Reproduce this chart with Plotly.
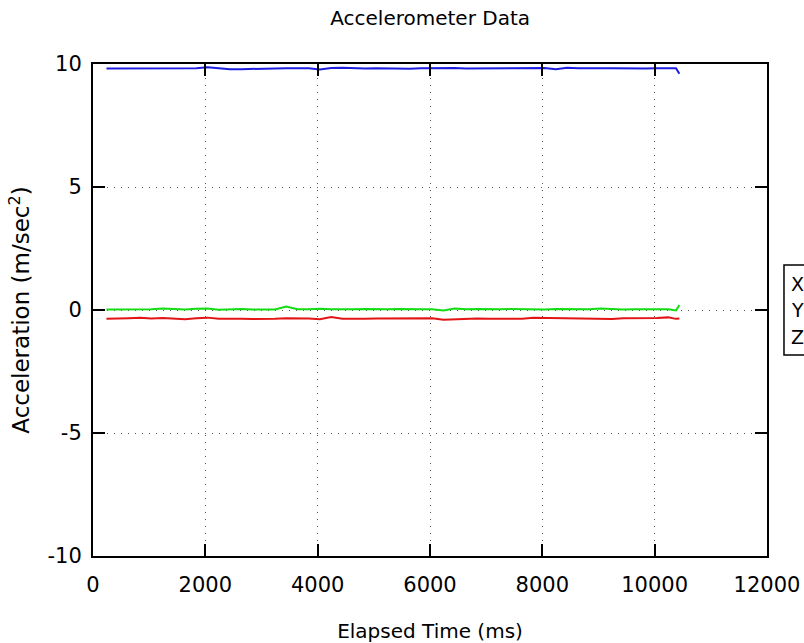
import plotly.graph_objects as go

# Sample times (ms) and acceleration readings (m/sec^2) for each axis
time_ms = [240 + 200 * i for i in range(51)] + [10380, 10440]

accel_x = [-0.36, -0.36, -0.34, -0.32, -0.35, -0.33, -0.37, -0.38, -0.34, -0.31,
           -0.36, -0.35, -0.36, -0.37, -0.38, -0.36, -0.34, -0.33, -0.35, -0.38,
           -0.29, -0.36, -0.37, -0.36, -0.35, -0.35, -0.34, -0.33, -0.34, -0.34,
           -0.40, -0.38, -0.36, -0.35, -0.36, -0.37, -0.38, -0.36, -0.32, -0.33,
           -0.34, -0.34, -0.35, -0.36, -0.39, -0.37, -0.34, -0.34, -0.33, -0.33,
           -0.30, -0.36, -0.35]

accel_y = [0.02, 0.02, 0.03, 0.02, 0.03, 0.06, 0.03, 0.02, 0.05, 0.06,
           0.01, 0.03, 0.04, 0.02, 0.03, 0.02, 0.14, 0.03, 0.03, 0.05,
           0.03, 0.02, 0.03, 0.04, 0.02, 0.03, 0.04, 0.02, 0.03, 0.03,
           -0.02, 0.06, 0.03, 0.04, 0.02, 0.03, 0.04, 0.03, 0.05, 0.02,
           0.04, 0.03, 0.02, 0.03, 0.06, 0.03, 0.02, 0.03, 0.04, 0.02,
           0.03, -0.02, 0.20]

accel_z = [9.82, 9.82, 9.83, 9.85, 9.84, 9.82, 9.82, 9.82, 9.83, 9.87,
           9.83, 9.79, 9.79, 9.79, 9.80, 9.82, 9.83, 9.84, 9.83, 9.78,
           9.84, 9.85, 9.83, 9.82, 9.83, 9.82, 9.82, 9.81, 9.83, 9.84,
           9.83, 9.84, 9.82, 9.82, 9.82, 9.82, 9.83, 9.85, 9.84, 9.84,
           9.79, 9.85, 9.83, 9.82, 9.83, 9.83, 9.82, 9.82, 9.82, 9.83,
           9.82, 9.83, 9.60]

series_names = ["X", "Y", "Z"]
series_colors = ["rgb(228,20,20)", "rgb(20,220,20)", "rgb(30,30,225)"]

x_ticks = [0, 2000, 4000, 6000, 8000, 10000, 12000]
x_tick_labels = ["0", "2000", "4000", "6000", "8000", "10000", "12000"]
y_ticks = [-10, -5, 0, 5, 10]
y_tick_labels = ["-10", "-5", "0", "5", "10"]

FONT = "DejaVu Sans"

fig = go.Figure()
for name, vals, color in zip(series_names, [accel_x, accel_y, accel_z], series_colors):
    fig.add_trace(go.Scatter(x=time_ms, y=vals, mode="lines", name=name,
                             line=dict(color=color, width=2), showlegend=False))

axis_common = dict(
    showline=True, linecolor="black", linewidth=2, mirror="ticks",
    ticks="inside", ticklen=12, tickwidth=1.5, tickcolor="black",
    showgrid=True, gridcolor="rgb(90,90,90)", gridwidth=1, griddash="1px,6px",
    zeroline=False, tickfont=dict(family=FONT, size=21, color="black"),
)

fig.update_xaxes(range=[0, 12000], tickvals=x_ticks, ticktext=x_tick_labels, ticklabelstandoff=9,
                 title=dict(text="Elapsed Time (ms)", font=dict(family=FONT, size=20, color="black"),
                            standoff=28),
                 **axis_common)
fig.update_yaxes(range=[-10, 10], tickvals=y_ticks, ticktext=y_tick_labels, ticklabelstandoff=5,
                 title=dict(text="Acceleration (m/sec<sup>2</sup>)",
                            font=dict(family=FONT, size=23, color="black"), standoff=11),
                 **axis_common)

# Key box at the right of the plot with the series names
fig.add_shape(type="rect", xref="paper", yref="paper", x0=1.0252, x1=1.3, y0=0.4085, y1=0.5915,
              line=dict(color="black", width=1.5), fillcolor="rgba(0,0,0,0)")
for name, ypos in zip(series_names, [0.553, 0.500, 0.446]):
    fig.add_annotation(text=name, xref="paper", yref="paper", x=1.0325, y=ypos,
                       xanchor="left", yanchor="middle", showarrow=False,
                       font=dict(family=FONT, size=19, color="black"))

fig.update_layout(
    width=804, height=643,
    margin=dict(l=93, r=37, t=64, b=87, autoexpand=False),
    paper_bgcolor="white", plot_bgcolor="white",
    title=dict(text="Accelerometer Data", x=0.535, xanchor="center", y=0.972, yanchor="middle",
               yref="container", font=dict(family=FONT, size=20, color="black")),
    showlegend=False,
)

fig.write_html("out.html")
